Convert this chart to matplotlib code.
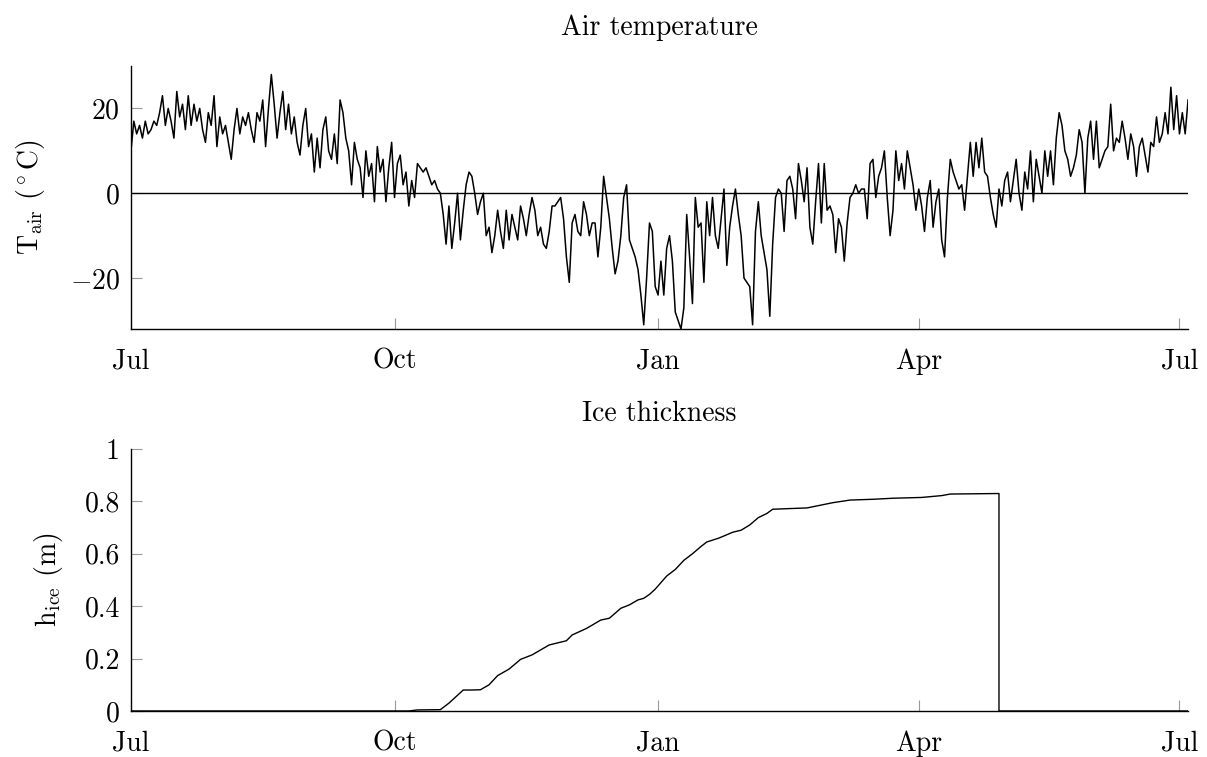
import numpy as np
import pandas as pd
import matplotlib
matplotlib.use("Agg")
import matplotlib.pyplot as plt
import matplotlib.dates as mdates

plt.rcParams['font.family'] = ['cmr10', 'DejaVu Serif']
plt.rcParams['mathtext.fontset'] = 'cm'
plt.rcParams['axes.formatter.use_mathtext'] = True
plt.rcParams['font.size'] = 20

start = pd.Timestamp("2015-07-01")

# daily mean air temperature (deg C), one value per day
t_air = [
    10, 17, 14, 16, 13, 17, 14, 15, 17, 16,
    19, 23, 16, 20, 17, 13, 24, 18, 21, 15,
    23, 16, 21, 17, 20, 15, 12, 19, 16, 23,
    11, 18, 14, 16, 12, 8, 15, 20, 14, 18,
    16, 19, 15, 12, 19, 17, 22, 11, 20, 28,
    21, 13, 19, 24, 15, 21, 14, 18, 12, 9,
    16, 20, 11, 14, 5, 13, 6, 15, 18, 10,
    8, 14, 7, 22, 19, 13, 10, 2, 12, 8,
    6, -1, 10, 4, 7, -2, 11, 5, 8, -2,
    6, 12, -1, 7, 9, 2, 5, -3, 3, -1,
    7, 6, 5, 6, 4, 2, 3, 1, 0, -5,
    -12, -3, -13, -7, 0, -11, -4, 2, 5, 4,
    0, -5, -2, 0, -10, -8, -14, -10, -4, -9,
    -13, -4, -11, -5, -8, -11, -3, -6, -10, -5,
    -1, -4, -10, -8, -12, -13, -9, -3, -3, -2,
    -1, -6, -15, -21, -7, -5, -9, -10, -2, -5,
    -10, -7, -7, -15, -8, 4, -1, -6, -13, -19,
    -16, -10, -1, 2, -11, -13, -15, -18, -24, -31,
    -20, -7, -9, -22, -24, -16, -24, -13, -10, -16,
    -28, -30, -32, -27, -5, -15, -26, -1, -8, -7,
    -21, -2, -10, -1, -10, -13, -6, 1, -17, -8,
    -3, 1, -5, -10, -20, -21, -22, -31, -9, -2,
    -10, -14, -18, -29, -12, -1, 1, 0, -9, 3,
    4, 1, -6, 7, 3, -2, 6, -8, -12, -2,
    7, -7, 7, -4, -3, -5, -14, -6, -8, -16,
    -7, -1, 0, 2, 0, 1, 1, -6, 7, 8,
    -1, 4, 6, 10, -1, -10, -4, 10, 3, 7,
    1, 10, 6, 2, -4, 1, -3, -9, -1, 3,
    -8, -2, 1, -11, -15, -1, 8, 5, 3, 1,
    2, -4, 4, 12, 4, 12, 6, 13, 5, 4,
    -1, -5, -8, 1, -3, 3, 5, -2, 3, 8,
    0, -4, 5, 1, 10, -2, 8, 4, 0, 10,
    4, 10, 2, 13, 19, 16, 10, 8, 4, 6,
    9, 15, 12, 0, 13, 17, 8, 17, 6, 8,
    10, 11, 21, 10, 13, 12, 17, 13, 8, 14,
    11, 4, 11, 13, 9, 5, 12, 11, 18, 12,
    14, 19, 14, 25, 15, 23, 14, 19, 14, 22,
]

# ice thickness (m) at day offsets from start
ice_day = [0, 97, 100, 108, 111, 114, 116, 119, 122, 125, 128, 132, 136, 140,
           146, 152, 154, 159, 164, 167, 171, 174, 177, 179, 181, 183, 185,
           187, 190, 193, 196, 199, 201, 205, 207, 210, 213, 216, 219, 222,
           224, 236, 245, 251, 259, 266, 276, 283, 286, 303, 303, 369]
ice_h = [0, 0.0, 0.004, 0.005, 0.03, 0.06, 0.08, 0.08, 0.081, 0.1, 0.135,
         0.16, 0.197, 0.214, 0.252, 0.268, 0.29, 0.315, 0.347, 0.354, 0.392,
         0.405, 0.424, 0.43, 0.445, 0.465, 0.49, 0.515, 0.54, 0.575, 0.6,
         0.628, 0.645, 0.659, 0.668, 0.682, 0.69, 0.71, 0.738, 0.754, 0.77,
         0.775, 0.795, 0.805, 0.808, 0.812, 0.815, 0.822, 0.828, 0.83, 0.0,
         0.0]

t_dates = start + pd.to_timedelta(np.arange(len(t_air)), unit="D")
ice_dates = start + pd.to_timedelta(ice_day, unit="D")
xmax = t_dates[-1]

fig = plt.figure(figsize=(12.07, 7.57), dpi=100)
ax1 = fig.add_axes([0.1085, 0.5654, 0.8758, 0.3474])
ax2 = fig.add_axes([0.1085, 0.0608, 0.8758, 0.3461])


def style(ax):
    ax.spines['top'].set_visible(False)
    ax.spines['right'].set_visible(False)
    for s in ('left', 'bottom'):
        ax.spines[s].set_linewidth(1.0)
    ax.tick_params(direction='in', length=8, width=0.8, color='0.6',
                   labelsize=20, top=False, right=False)
    ax.tick_params(axis='x', pad=14)
    ax.tick_params(axis='y', pad=8)
    ax.xaxis.set_major_locator(mdates.MonthLocator(bymonth=[1, 4, 7, 10]))
    ax.xaxis.set_major_formatter(mdates.DateFormatter('%b'))
    ax.set_xlim(start, xmax)


ax1.plot(t_dates, t_air, color='black', lw=1.1)
ax1.axhline(0, color='black', lw=1.0)
ax1.set_ylim(-32, 30)
ax1.set_yticks([-20, 0, 20])
ax1.set_title('Air temperature', fontsize=20, pad=22)
ax1.set_ylabel(r'T$_\mathrm{air}$ ($^\circ$C)', fontsize=20, labelpad=16)
style(ax1)

ax2.plot(ice_dates, ice_h, color='black', lw=1.0)
ax2.set_ylim(0, 1)
ax2.set_yticks([0, 0.2, 0.4, 0.6, 0.8, 1])
ax2.set_yticklabels(['0', '0.2', '0.4', '0.6', '0.8', '1'])
ax2.set_title('Ice thickness', fontsize=20, pad=20)
ax2.set_ylabel(r'h$_\mathrm{ice}$ (m)', fontsize=20, labelpad=14)
style(ax2)

fig.savefig('out.png', dpi=100)
